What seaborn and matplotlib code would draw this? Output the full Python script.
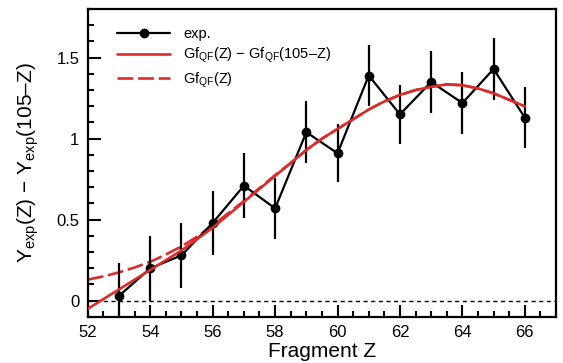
#!/usr/bin/env python3
"""Asymmetry of fragment yields vs. fragment Z with QF fit curves."""

import numpy as np
import pandas as pd
import matplotlib
matplotlib.use("Agg")
import matplotlib.pyplot as plt
import seaborn as sns

# ---------------------
# Data
# ---------------------
z_exp = [53, 54, 55, 56, 57, 58, 59, 60, 61, 62, 63, 64, 65, 66]
y_exp = [0.03, 0.20, 0.28, 0.48, 0.71, 0.57, 1.04, 0.91, 1.39, 1.15, 1.35, 1.22, 1.43, 1.13]
y_err = [0.20, 0.20, 0.20, 0.20, 0.20, 0.19, 0.19, 0.18, 0.19, 0.18, 0.19, 0.19, 0.19, 0.19]

z_fit = [52, 52.5, 53, 53.5, 54, 54.5, 55, 55.5, 56, 56.5, 57, 57.5, 58, 58.5, 59,
         59.5, 60, 60.5, 61, 61.5, 62, 62.5, 63, 63.5, 64, 64.5, 65, 65.5, 66]
y_diff = [-0.05, 0.01, 0.07, 0.13, 0.19, 0.25, 0.31, 0.38, 0.45, 0.53, 0.61, 0.69, 0.77, 0.85, 0.93,
          1.00, 1.06, 1.12, 1.18, 1.23, 1.27, 1.30, 1.32, 1.335, 1.33, 1.31, 1.28, 1.24, 1.20]
y_gf = [0.13, 0.15, 0.175, 0.205, 0.24, 0.285, 0.335, 0.395, 0.465, 0.54, 0.615, 0.695, 0.775, 0.85, 0.93,
        1.00, 1.06, 1.12, 1.18, 1.23, 1.27, 1.30, 1.32, 1.335, 1.33, 1.31, 1.28, 1.24, 1.20]

RED = "#dc2b2b"

sns.set_style("ticks")
plt.rcParams["font.family"] = ["Liberation Sans", "DejaVu Sans"]
plt.rcParams["mathtext.fontset"] = "custom"
plt.rcParams["mathtext.rm"] = "Liberation Sans"
plt.rcParams["mathtext.it"] = "Liberation Sans"
plt.rcParams["text.color"] = "black"
plt.rcParams["axes.labelcolor"] = "black"
plt.rcParams["xtick.color"] = "black"
plt.rcParams["ytick.color"] = "black"

df_exp = pd.DataFrame({"z": z_exp, "y": y_exp})
df_fit = pd.DataFrame({"z": z_fit, "diff": y_diff, "gf": y_gf})

fig = plt.figure(figsize=(5.63, 3.63), dpi=100)
ax = fig.add_axes([0.156, 0.127, 0.8316, 0.848])

ax.axhline(0, color="black", lw=1.0, ls=(0, (3, 2.5)), zorder=1)

sns.lineplot(data=df_fit, x="z", y="gf", ax=ax, color=RED, lw=1.9,
             dashes=False, zorder=2, label=r"Gf$_{\mathrm{QF}}$(Z)")
ax.lines[-1].set_linestyle((0, (6, 1.8)))
ax.errorbar(z_exp, y_exp, yerr=y_err, fmt="none", ecolor="black", elinewidth=1.6,
            capsize=0, zorder=3)
sns.lineplot(data=df_exp, x="z", y="y", ax=ax, color="black", lw=1.6, marker="o",
             markersize=7, markeredgewidth=0, zorder=4, label="exp.")
sns.lineplot(data=df_fit, x="z", y="diff", ax=ax, color=RED, lw=1.9, zorder=5,
             label=r"Gf$_{\mathrm{QF}}$(Z) $-$ Gf$_{\mathrm{QF}}$(105–Z)")

ax.set_xlim(52, 67)
ax.set_ylim(-0.1, 1.8)
ax.set_xticks([52, 54, 56, 58, 60, 62, 64, 66])
ax.set_xticks(np.arange(52, 67.01, 0.5), minor=True)
ax.set_yticks([0, 0.5, 1, 1.5])
ax.set_yticklabels(["0", "0.5", "1", "1.5"])
ax.set_yticks(np.arange(-0.1, 1.81, 0.1), minor=True)
ax.tick_params(axis="both", which="both", direction="in", top=False, right=False,
               labelsize=12, width=1.5, colors="black")
ax.tick_params(axis="both", which="major", length=9, pad=6)
ax.tick_params(axis="both", which="minor", length=4.5)
for s in ax.spines.values():
    s.set_linewidth(1.6)
    s.set_color("black")

ax.set_xlabel("Fragment Z", fontsize=15, labelpad=1, color="black")
ax.set_ylabel(r"Y$_{\mathrm{exp}}$(Z) $-$ Y$_{\mathrm{exp}}$(105–Z)", fontsize=15,
              labelpad=11, color="black")

handles, labels = ax.get_legend_handles_labels()
order = [1, 2, 0]
leg = ax.legend([handles[i] for i in order], [labels[i] for i in order],
                loc="upper left", bbox_to_anchor=(0.035, 0.985), frameon=False,
                fontsize=10.5, handlelength=3.6, labelspacing=0.35, handletextpad=0.9)
for t in leg.get_texts():
    t.set_color("black")

fig.savefig("out.png", dpi=100)
